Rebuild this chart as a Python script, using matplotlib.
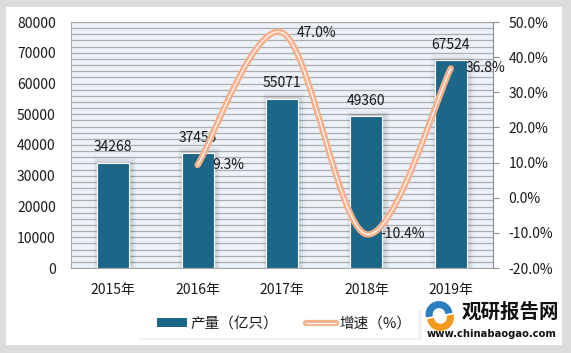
import numpy as np
import matplotlib.pyplot as plt
from matplotlib.path import Path
from matplotlib.patches import PathPatch, Rectangle, Wedge
from matplotlib.lines import Line2D
from matplotlib.patches import Patch
import matplotlib.patheffects as pe

plt.rcParams['font.family'] = ['Noto Sans CJK SC', 'DejaVu Sans']

# Data
years = ['2015年', '2016年', '2017年', '2018年', '2019年']
output = [34268, 37455, 55071, 49360, 67524]
growth_years = [1, 2, 3, 4]
growth = [9.3, 47.0, -10.4, 36.8]

bar_color = '#1c6688'
line_color = '#f7b08c'
txt = '#1a1a1a'

fig = plt.figure(figsize=(5.71, 3.53), dpi=100)
fig.patch.set_facecolor('#dcdcdc')
# white panel
fig.patches.append(Rectangle((6 / 571, 8 / 353), 556 / 571, 338 / 353, transform=fig.transFigure,
                             facecolor='white', edgecolor='none', zorder=-2))

ax = fig.add_axes([71 / 571, (353 - 268) / 353, 422 / 571, 246 / 353])
ax.set_facecolor('#ebf2f9')
x = np.arange(len(years))

# bar shadows
for xi, v in zip(x, output):
    for k, a in enumerate([0.05, 0.04, 0.03]):
        ax.bar(xi + 0.02, v + 600 * (k + 1), width=0.38 + 0.04 * (k + 1), color='black', alpha=a, zorder=2)
ax.bar(x, output, width=0.38, color=bar_color, edgecolor='white', linewidth=0.8, zorder=3)
for xi, v in zip(x, output):
    ax.text(xi, v + 2700, str(v), ha='center', va='bottom', fontsize=10, color=txt, zorder=6)

ax.set_xlim(-0.5, 4.5)
ax.set_ylim(0, 80000)
ax.set_yticks(np.arange(0, 80001, 10000))
ax.set_yticks(np.arange(0, 80001, 2000), minor=True)
ax.grid(which='both', axis='y', color='#adadad', linewidth=0.9, zorder=1)
ax.set_axisbelow(True)
ax.set_xticks(x)
ax.set_xticklabels(years, fontsize=10, color=txt)
ax.tick_params(axis='y', which='both', length=0, labelsize=10, labelcolor=txt, pad=11)
ax.tick_params(axis='x', length=0, pad=11)
for s in ['top', 'left', 'bottom']:
    ax.spines[s].set_color('#a8a8a8')
ax.spines['right'].set_visible(False)

ax2 = ax.twinx()
ax2.set_ylim(-20, 50)
ax2.set_yticks(np.arange(-20, 51, 10))
ax2.set_yticklabels(['%.1f%%' % t for t in np.arange(-20, 51, 10)])
ax2.tick_params(axis='y', length=4, color='#8c8c8c', labelsize=10, labelcolor=txt, pad=7)
for s in ['top', 'left', 'bottom']:
    ax2.spines[s].set_visible(False)
ax2.spines['right'].set_color('#8c8c8c')

# smooth line (Catmull-Rom as cubic Bezier)
px = np.array(growth_years, dtype=float)
py = np.array(growth, dtype=float)
verts = [(px[0], py[0])]
codes = [Path.MOVETO]
n = len(px)
t = 1 / 6
for i in range(n - 1):
    p0 = np.array([px[max(i - 1, 0)], py[max(i - 1, 0)]])
    p1 = np.array([px[i], py[i]])
    p2 = np.array([px[i + 1], py[i + 1]])
    p3 = np.array([px[min(i + 2, n - 1)], py[min(i + 2, n - 1)]])
    c1 = p1 + (p2 - p0) * t
    c2 = p2 - (p3 - p1) * t
    verts += [tuple(c1), tuple(c2), tuple(p2)]
    codes += [Path.CURVE4] * 3
path = Path(verts, codes)
ax2.add_patch(PathPatch(path, facecolor='none', edgecolor=line_color, linewidth=4.5,
                        capstyle='round', zorder=4))
ax2.add_patch(PathPatch(path, facecolor='none', edgecolor='white', linewidth=0.8,
                        capstyle='round', zorder=5))

for xi, v in zip(px, py):
    ax2.text(xi + 0.17, v, '%.1f%%' % v, ha='left', va='center', fontsize=10, color=txt, zorder=6)

# legend box
fig.patches.append(Rectangle((138 / 571, (353 - 340) / 353), 284 / 571, 30 / 353, transform=fig.transFigure,
                             facecolor='#f2f2f2', edgecolor='none', zorder=-1))
fig.patches.append(Rectangle((136 / 571, (353 - 338) / 353), 282 / 571, 29 / 353, transform=fig.transFigure,
                             facecolor='white', edgecolor='none', zorder=-1))
handles = [Patch(facecolor=bar_color, edgecolor='none'),
           Line2D([0], [0], color=line_color, linewidth=4.5, solid_capstyle='round')]
leg = fig.legend(handles, ['产量（亿只）', '增速（%）'], loc='center', ncol=2,
                 bbox_to_anchor=(284 / 571, (353 - 324) / 353), frameon=False, fontsize=10.5,
                 handlelength=2.1, handleheight=0.55, columnspacing=1.9, handletextpad=0.2,
                 labelcolor=txt)
lh = leg.legend_handles[1]
lh.set_path_effects([pe.Stroke(linewidth=4.5, foreground=line_color),
                     pe.Stroke(linewidth=0.8, foreground='white')])

# logo
lax = fig.add_axes([424 / 571, (353 - 331) / 353, 30 / 571, 30 / 353])
lax.set_xlim(-1, 1)
lax.set_ylim(-1, 1)
lax.set_aspect('equal')
lax.axis('off')
lax.add_patch(Wedge((0, 0.1), 0.85, 10, 190, width=0.38, color='#2a7fc0'))
lax.add_patch(Wedge((0.1, -0.1), 0.85, 190, 370, width=0.38, color='#f39a1e'))
fig.text(510 / 571, (353 - 312) / 353, '观研报告网', ha='center', va='center', fontsize=14,
         fontweight='bold', color='#111111')
fig.text(492 / 571, (353 - 334) / 353, 'www.chinabaogao.com', ha='center', va='center', fontsize=7.2,
         fontweight='bold', color='#111111', family=['DejaVu Sans'])

fig.savefig('out.png', dpi=100, facecolor=fig.get_facecolor())
